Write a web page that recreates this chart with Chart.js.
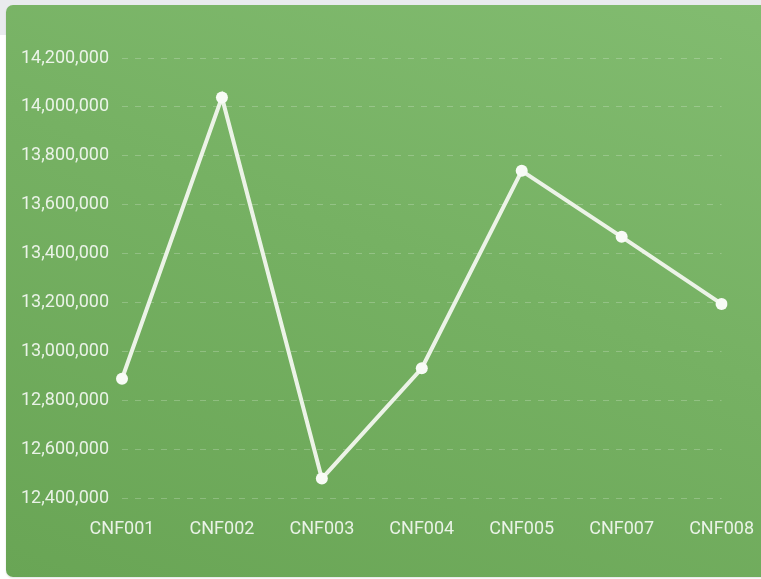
<!DOCTYPE html>
<html>
<head>
<meta charset="utf-8">
<script src="https://cdn.jsdelivr.net/npm/chart.js@4.4.0/dist/chart.umd.min.js"></script>
<style>
  html, body { margin: 0; padding: 0; background: #ffffff; overflow: hidden; }
  .topbar { position: absolute; left: 0; top: 0; width: 761px; height: 35px; background: #e9ebee; }
  .card {
    position: absolute; left: 6px; top: 5px; width: 780px; height: 572px;
    border-radius: 7px;
    background: linear-gradient(200deg, #82bc70 0%, #76b163 45%, #69a555 100%);
    box-shadow: 0 1px 2px rgba(0,0,0,0.12);
  }
  .wrap { position: absolute; left: 0; top: 0; width: 761px; height: 579px; overflow: hidden; }
</style>
</head>
<body>
<div class="topbar"></div>
<div class="card"></div>
<div class="wrap"><canvas id="lineChart" width="774" height="579"></canvas></div>
<script>
const labels = ['CNF001', 'CNF002', 'CNF003', 'CNF004', 'CNF005', 'CNF007', 'CNF008'];
const values = [12889000, 14039000, 12481000, 12932000, 13739000, 13469000, 13195000];
const yMin = 12400000;
const yMax = 14200000;
const yStep = 200000;

const ctx = document.getElementById('lineChart').getContext('2d');
const myChart = new Chart(ctx, {
    type: 'line',
    data: {
        labels: labels,
        datasets: [{
            data: values,
            borderColor: 'rgba(242, 247, 238, 0.95)',
            borderWidth: 4,
            backgroundColor: '#ffffff',
            pointBackgroundColor: '#f8fbf6',
            pointBorderWidth: 0,
            pointRadius: 6,
            tension: 0,
            fill: false
        }]
    },
    options: {
        responsive: false,
        animation: false,
        layout: {
            padding: { left: 8, right: 27, top: 58, bottom: 19 }
        },
        plugins: {
            legend: { display: false },
            tooltip: { enabled: false }
        },
        scales: {
            x: {
                grid: { display: false, drawTicks: false },
                border: { display: false },
                ticks: {
                    color: 'rgba(255, 255, 255, 0.85)',
                    font: { family: 'Roboto', size: 18 },
                    padding: 20,
                    maxRotation: 0
                }
            },
            y: {
                min: yMin,
                max: yMax,
                grid: { color: 'rgba(255, 255, 255, 0.22)', drawTicks: false },
                border: { display: false, dash: [6, 7] },
                ticks: {
                    stepSize: yStep,
                    color: 'rgba(255, 255, 255, 0.85)',
                    font: { family: 'Roboto', size: 18 },
                    padding: 13,
                    callback: v => v.toLocaleString('en-US')
                }
            }
        }
    }
});
</script>
</body>
</html>
